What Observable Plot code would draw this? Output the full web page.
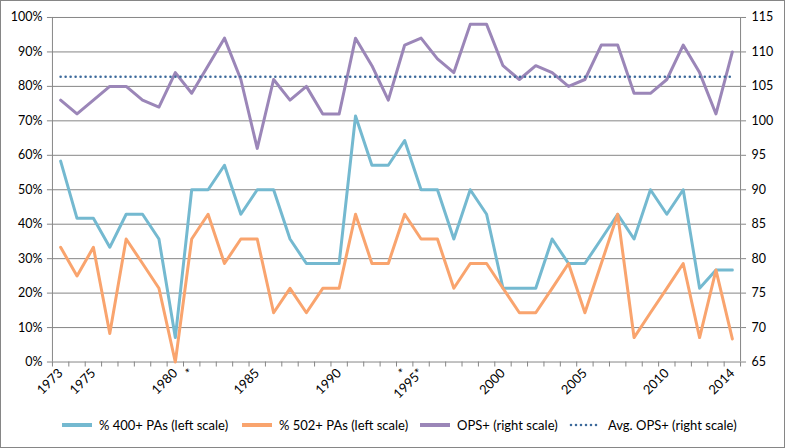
<!DOCTYPE html>
<html>
<head>
<meta charset="utf-8">
<script src="https://cdn.jsdelivr.net/npm/d3@7"></script>
<script src="https://cdn.jsdelivr.net/npm/@observablehq/plot@0.6"></script>
<style>
  html, body { margin: 0; padding: 0; background: #fff; }
  #chart { position: relative; width: 785px; height: 448px; box-sizing: border-box; border: 1px solid #868686; font-family: Lato, "Liberation Sans", sans-serif; }
  #plot { position: absolute; left: -1px; top: -1px; }
  #legend { position: absolute; left: 0; right: 0; top: 416px; height: 18px; font-size: 13px; color: #000; }
  .item { position: absolute; top: 0; display: flex; align-items: center; gap: 5px; white-space: nowrap; }
</style>
</head>
<body>
<div id="chart"><div id="plot"></div><div id="legend"></div></div>
<script>
const years = d3.range(1973, 2015);
const pct400 = [58.3,41.7,41.7,33.3,42.9,42.9,35.7,7.1,50,50,57.1,42.9,50,50,35.7,28.6,28.6,28.6,71.4,57.1,57.1,64.3,50,50,35.7,50,42.9,21.4,21.4,21.4,35.7,28.6,28.6,35.7,42.9,35.7,50,42.9,50,21.4,26.7,26.7];
const pct502 = [33.3,25,33.3,8.3,35.7,28.6,21.4,0,35.7,42.9,28.6,35.7,35.7,14.3,21.4,14.3,21.4,21.4,42.9,28.6,28.6,42.9,35.7,35.7,21.4,28.6,28.6,21.4,14.3,14.3,21.4,28.6,14.3,28.6,42.9,7.1,14.3,21.4,28.6,7.1,26.7,6.7];
const opsPlus = [103,101,103,105,105,103,102,107,104,108,112,106,96,106,103,105,101,101,112,108,103,111,112,109,107,114,114,108,106,108,107,105,106,111,111,104,104,106,111,107,101,110];
const avgOps = 106.4;
const leftTicks = [0,10,20,30,40,50,60,70,80,90,100];
const rightTicks = [65,70,75,80,85,90,95,100,105,110,115];
const labelYears = [1973,1975,1980,1981,1985,1990,1994,1995,2000,2005,2010,2014];
const labelTexts = ["1973","1975","1980","*","1985","1990","*","1995*","2000","2005","2010","2014"];
const seriesNames = ["% 400+ PAs (left scale)","% 502+ PAs (left scale)","OPS+ (right scale)","Avg. OPS+ (right scale)"];
const colors = ["#74B9D0","#F9A46E","#9B86B8","#3D6A9B"];
const legendLefts = [59, 239, 417, 568];

const rMin = rightTicks[0], rMax = rightTicks[rightTicks.length-1];
const toPct = v => (v - rMin) / (rMax - rMin) * 100;

const rows = years.map((y,i) => ({year:y, a:pct400[i], b:pct502[i], c:toPct(opsPlus[i]), d:toPct(avgOps)}));
const bounds = years.map(y => y - 0.5).concat([years[years.length-1] + 0.5]);
const labelMap = new Map(labelYears.map((y,i) => [y, labelTexts[i]]));
const grid = "#868686";

const plot = Plot.plot({
  width: 785, height: 410,
  marginLeft: 52, marginRight: 44, marginTop: 17, marginBottom: 48,
  style: {fontFamily: "Lato, 'Liberation Sans', sans-serif", fontSize: "12.5px", color: "#000", background: "transparent", overflow: "visible"},
  x: {type: "linear", domain: [bounds[0], bounds[bounds.length-1]]},
  y: {type: "linear", domain: [leftTicks[0], leftTicks[leftTicks.length-1]]},
  marks: [
    Plot.ruleY(leftTicks, {stroke: grid, strokeWidth: 1}),
    Plot.ruleX([bounds[0], bounds[bounds.length-1]], {stroke: grid, strokeWidth: 1}),
    Plot.axisY(leftTicks, {anchor: "left", tickSize: 5, tickPadding: 5, stroke: grid, tickFormat: d => d + "%", label: null}),
    Plot.axisY(leftTicks, {anchor: "right", tickSize: 5, tickPadding: 6, stroke: grid, tickFormat: (d,i) => String(rightTicks[i]), label: null}),
    Plot.axisX(bounds, {tickSize: 5, stroke: grid, tickFormat: () => "", label: null}),
    Plot.axisX(labelYears, {tickSize: 0, tickPadding: 9, tickRotate: -45, fontSize: 13, tickFormat: d => labelMap.get(d), label: null}),
    Plot.line(rows, {x: "year", y: "a", stroke: colors[0], strokeWidth: 3}),
    Plot.line(rows, {x: "year", y: "b", stroke: colors[1], strokeWidth: 3}),
    Plot.line(rows, {x: "year", y: "c", stroke: colors[2], strokeWidth: 3}),
    Plot.line(rows, {x: "year", y: "d", stroke: colors[3], strokeWidth: 2.6, strokeLinecap: "round", strokeDasharray: "0,5"})
  ]
});
document.getElementById("plot").appendChild(plot);

const legend = document.getElementById("legend");
seriesNames.forEach((name, i) => {
  const item = document.createElement("div");
  item.className = "item";
  item.style.left = legendLefts[i] + "px";
  const dash = i === 3 ? 'stroke-dasharray="0,5" stroke-linecap="round" stroke-width="2.6"' : 'stroke-width="4"';
  item.innerHTML = `<svg width="34" height="8"><line x1="2" x2="32" y1="4" y2="4" stroke="${colors[i]}" ${dash}/></svg><span>${name}</span>`;
  legend.appendChild(item);
});
</script>
</body>
</html>
